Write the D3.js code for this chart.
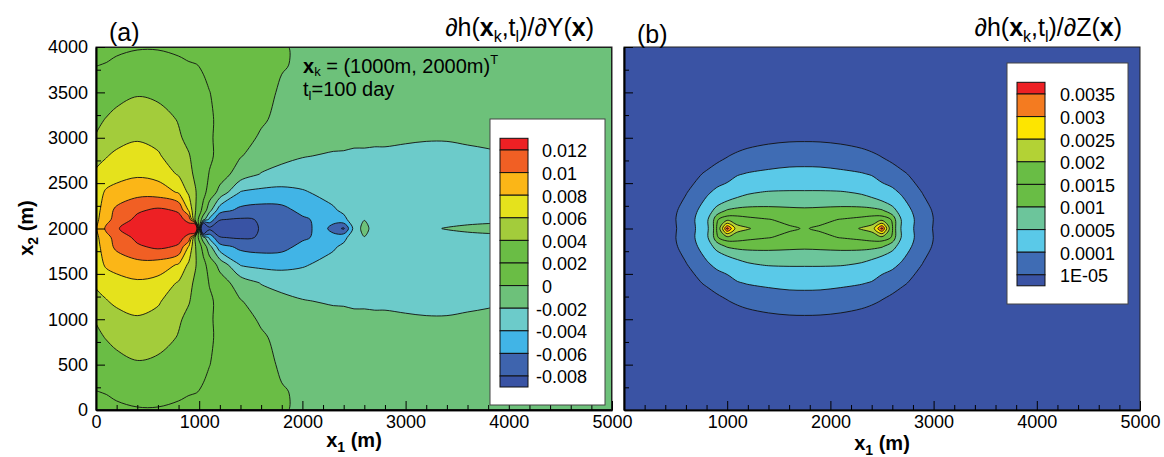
<!DOCTYPE html>
<html>
<head>
<meta charset="utf-8">
<script src="https://cdn.jsdelivr.net/npm/d3@7"></script>
<style>
  body { margin: 0; background: #fff; }
  svg text { font-family: "Liberation Sans", Arial, Helvetica, sans-serif; fill: #000; }
</style>
</head>
<body>
<div id="chart"></div>
<script>
// ---- panel (a): dh/dY, values on a grid of nodes ----
// node positions along x1 (m)
var gridA_x1 = [0, 100, 200, 400, 600, 800, 900, 960, 1040, 1100, 1200, 1400, 1600, 1800, 2000,
                2200, 2300, 2400, 2500, 2600, 2700, 2800, 3000, 3200, 3400, 3600, 3800, 4200, 4600, 5000];
// node rows along x2 (m), upper half only: the field is mirrored about x2 = 2000
var gridA_x2 = [2000, 2100, 2200, 2400, 2600, 2800, 3000, 3200, 3500, 3800, 4000];
var valuesA = [
  [0.0078, 0.0104, 0.0118, 0.0133, 0.0138, 0.0132, 0.0128, 0.020, -0.018, -0.0086, -0.0090, -0.0094, -0.0078, -0.0074, -0.0067,
   -0.0052, -0.0070, -0.0083, -0.0034, -0.0012, -0.0030, -0.0028, -0.0026, -0.0023, -0.0019, -0.0016, -0.0014, -0.0012, -0.0010, -0.0008],
  [0.0075, 0.0094, 0.0107, 0.0125, 0.0131, 0.0125, 0.0115, 0.0040, -0.0012, -0.0045, -0.0079, -0.0082, -0.0079, -0.0073, -0.0063,
   -0.0055, -0.0050, -0.0044, -0.0032, -0.0021, -0.0027, -0.0029, -0.0029, -0.0028, -0.0027, -0.0026, -0.0025, -0.0023, -0.0021, -0.0016],
  [0.0072, 0.0092, 0.0104, 0.0117, 0.0124, 0.0118, 0.0078, 0.0042, 0.0013, -0.0013, -0.0052, -0.0065, -0.0068, -0.0066, -0.0055,
   -0.0046, -0.0042, -0.0037, -0.0034, -0.0033, -0.0032, -0.0032, -0.0032, -0.0031, -0.0030, -0.0029, -0.0028, -0.0026, -0.0022, -0.0017],
  [0.0070, 0.0083, 0.0088, 0.0093, 0.0091, 0.0078, 0.0056, 0.0042, 0.0026, 0.0012, -0.0006, -0.0041, -0.0045, -0.0046, -0.0042,
   -0.0036, -0.0034, -0.0033, -0.0032, -0.0032, -0.0032, -0.0032, -0.0032, -0.0032, -0.0031, -0.0030, -0.0029, -0.0026, -0.0022, -0.0017],
  [0.0062, 0.0068, 0.0072, 0.0077, 0.0073, 0.0058, 0.0045, 0.0037, 0.0027, 0.0019, 0.0009, -0.0009, -0.0021, -0.0026, -0.0029,
   -0.0030, -0.0031, -0.0031, -0.0031, -0.0031, -0.0031, -0.0031, -0.0031, -0.0031, -0.0030, -0.0029, -0.0027, -0.0024, -0.0020, -0.0016],
  [0.0055, 0.0059, 0.0064, 0.0068, 0.0062, 0.0050, 0.0041, 0.0035, 0.0028, 0.0023, 0.0015, 0.0001, -0.0008, -0.0015, -0.0019,
   -0.0021, -0.0022, -0.0022, -0.0023, -0.0023, -0.0023, -0.0023, -0.0024, -0.0024, -0.0024, -0.0023, -0.0022, -0.0019, -0.0015, -0.0012],
  [0.0041, 0.0047, 0.0053, 0.0058, 0.0055, 0.0042, 0.0036, 0.0032, 0.0026, 0.0022, 0.0016, 0.0006, -0.0002, -0.0007, -0.0011,
   -0.0013, -0.0014, -0.0015, -0.0016, -0.0016, -0.0017, -0.0017, -0.0018, -0.0019, -0.0019, -0.0018, -0.0017, -0.0014, -0.0011, -0.0009],
  [0.0036, 0.0041, 0.0046, 0.0051, 0.0047, 0.0039, 0.0034, 0.0030, 0.0025, 0.0022, 0.0017, 0.0009, 0.0002, -0.0004, -0.0008,
   -0.0010, -0.0011, -0.0012, -0.0012, -0.0013, -0.0013, -0.0014, -0.0015, -0.0016, -0.0016, -0.0015, -0.0014, -0.0012, -0.0010, -0.0008],
  [0.0027, 0.0030, 0.0033, 0.0038, 0.0036, 0.0031, 0.0027, 0.0025, 0.0022, 0.00202, 0.0017, 0.0011, 0.0005, -0.0002, -0.0005,
   -0.0007, -0.0008, -0.0008, -0.0009, -0.0009, -0.0010, -0.0010, -0.0011, -0.0012, -0.0012, -0.0012, -0.0011, -0.0010, -0.0008, -0.0007],
  [0.00195, 0.0021, 0.0023, 0.0025, 0.0025, 0.0023, 0.0021, 0.00205, 0.0019, 0.0017, 0.0014, 0.0009, 0.0005, 0.0001, -0.0002,
   -0.0004, -0.0005, -0.0006, -0.0006, -0.0007, -0.0007, -0.0008, -0.0008, -0.0009, -0.0009, -0.0009, -0.0009, -0.0008, -0.0007, -0.0006],
  [0.0012, 0.0014, 0.0017, 0.0019, 0.0019, 0.0017, 0.0016, 0.0015, 0.0013, 0.0012, 0.0010, 0.0007, 0.0004, 0.0001, -0.0002,
   -0.0004, -0.0005, -0.0005, -0.0006, -0.0006, -0.0006, -0.0007, -0.0007, -0.0007, -0.0007, -0.0007, -0.0007, -0.0006, -0.0006, -0.0005]
];
var levelsA = [-0.008, -0.006, -0.004, -0.002, 0, 0.002, 0.004, 0.006, 0.008, 0.01, 0.012];
// first colour is below the lowest level, then one per level
var colorsA = ["#3953a4", "#3e64ae", "#41b4e6", "#6ccbca", "#6dc17a", "#6abd45", "#6abd45",
               "#a3cc3b", "#e5e21c", "#fbb617", "#f15f24", "#ed2024"];
var legendLabelsA = ["0.012", "0.01", "0.008", "0.006", "0.004", "0.002", "0", "-0.002", "-0.004", "-0.006", "-0.008"];

// ---- panel (b): dh/dZ, stored as log10 of the value ----
var gridB_x1 = [0, 400, 600, 800, 900, 1000, 1100, 1200, 1400, 1600, 1750, 1900, 2100, 2300, 2400, 2500,
                2600, 2700, 2900, 3100, 3500, 5000];
var gridB_x2 = [2000, 2100, 2200, 2400, 2600, 2800, 3000, 3200, 4000];
var log10ValuesB = [
  [-7.0, -5.59, -4.52, -3.40, -2.81, -2.43, -2.66, -2.688, -2.77, -2.81, -2.83, -2.81, -2.77, -2.688, -2.66, -2.43, -2.81, -3.40, -4.52, -5.59, -7.0, -9.5],
  [-7.0, -5.55, -4.48, -3.38, -2.84, -2.73, -2.76, -2.79, -2.82, -2.85, -2.87, -2.85, -2.82, -2.79, -2.76, -2.73, -2.84, -3.38, -4.48, -5.55, -7.0, -9.5],
  [-7.2, -5.6, -4.6, -3.55, -3.15, -2.98, -2.93, -2.92, -2.93, -2.95, -2.96, -2.95, -2.93, -2.92, -2.93, -2.98, -3.15, -3.55, -4.6, -5.6, -7.2, -9.6],
  [-8.0, -6.0, -5.07, -4.15, -3.8, -3.6, -3.45, -3.35, -3.27, -3.25, -3.25, -3.25, -3.27, -3.35, -3.45, -3.6, -3.8, -4.15, -5.07, -6.0, -8.0, -10],
  [-8.5, -6.5, -5.5, -4.85, -4.55, -4.35, -4.05, -3.95, -3.88, -3.85, -3.85, -3.85, -3.88, -3.95, -4.05, -4.35, -4.55, -4.85, -5.5, -6.5, -8.5, -10.5],
  [-9.0, -7.2, -6.3, -5.6, -5.3, -5.05, -4.8, -4.6, -4.35, -4.24, -4.22, -4.24, -4.35, -4.6, -4.8, -5.05, -5.3, -5.6, -6.3, -7.2, -9.0, -11],
  [-9.5, -8.0, -7.2, -6.6, -6.2, -5.95, -5.7, -5.55, -5.35, -5.23, -5.21, -5.23, -5.35, -5.55, -5.7, -5.95, -6.2, -6.6, -7.2, -8.0, -9.5, -11.5],
  [-10, -9.0, -8.2, -7.6, -7.2, -6.9, -6.6, -6.45, -6.3, -6.2, -6.2, -6.2, -6.3, -6.45, -6.6, -6.9, -7.2, -7.6, -8.2, -9.0, -10, -12],
  [-12, -12, -12, -12, -12, -12, -12, -12, -12, -12, -12, -12, -12, -12, -12, -12, -12, -12, -12, -12, -12, -12]
];
var levelsB = [1e-5, 1e-4, 5e-4, 1e-3, 1.5e-3, 2e-3, 2.5e-3, 3e-3, 3.5e-3];
var colorsB = ["#3a53a4", "#3f6cb4", "#5ac9e8", "#6cc59b", "#69bd45", "#69bd45",
               "#b3d235", "#fde500", "#f47b20", "#ed2024"];
var legendLabelsB = ["0.0035", "0.003", "0.0025", "0.002", "0.0015", "0.001", "0.0005", "0.0001", "1E-05"];

var xTicks = [0, 1000, 2000, 3000, 4000, 5000];
var yTicks = [0, 500, 1000, 1500, 2000, 2500, 3000, 3500, 4000];

// ---- layout ----
var W = 1164, H = 457;
var svg = d3.select("#chart").append("svg").attr("width", W).attr("height", H);
var defs = svg.append("defs");

var yScale = d3.scaleLinear().domain([0, 4000]).range([410, 47]);
var xScaleA = d3.scaleLinear().domain([0, 5000]).range([96, 612]);
var xScaleB = d3.scaleLinear().domain([0, 5000]).range([624, 1140]);

// full grid from the upper half rows, top row first
function mirrorGrid(rowsX2, rows) {
  var ys = [], vals = [];
  for (var i = rowsX2.length - 1; i >= 0; i--) { ys.push(rowsX2[i]); vals.push(rows[i]); }
  for (var j = 1; j < rowsX2.length; j++) { ys.push(4000 - rowsX2[j]); vals.push(rows[j]); }
  return { ys: ys, values: [].concat.apply([], vals) };
}

function drawField(g, id, xs, ys, values, thresholds, colors, xScale) {
  var n = xs.length, m = ys.length;
  // grid index -> data coordinate (non uniform node spacing)
  var ix = d3.scaleLinear().domain(d3.range(n)).range(xs).clamp(true);
  var iy = d3.scaleLinear().domain(d3.range(m)).range(ys).clamp(true);
  var toPx = p => [xScale(ix(p[0] - 0.5)), yScale(iy(p[1] - 0.5))];
  var smooth = d3.line().curve(d3.curveCatmullRomClosed.alpha(0.5));
  var bandPath = function (d) {
    var s = "";
    d.coordinates.forEach(function (poly) {
      poly.forEach(function (ring) {
        var pts = ring.slice(0, -1).map(toPx);
        if (pts.length > 2) s += smooth(pts);
      });
    });
    return s || null;
  };
  var bands = d3.contours().size([n, m]).thresholds(thresholds)(values);

  var x0 = xScale(0), y0 = yScale(4000), w = xScale(5000) - xScale(0), h = yScale(0) - yScale(4000);
  defs.append("clipPath").attr("id", id).append("rect")
    .attr("x", x0).attr("y", y0).attr("width", w).attr("height", h);
  var field = g.append("g").attr("clip-path", "url(#" + id + ")");

  field.append("rect")
    .attr("x", x0).attr("y", y0).attr("width", w).attr("height", h)
    .attr("fill", colors[0]);
  field.append("g").selectAll("path")
    .data(bands).enter().append("path")
    .attr("d", bandPath)
    .attr("fill", (d, i) => colors[i + 1]);
  field.append("g").selectAll("path")
    .data(bands).enter().append("path")
    .attr("d", bandPath)
    .attr("fill", "none")
    .attr("stroke", "#111")
    .attr("stroke-width", 0.9)
    .attr("stroke-linejoin", "round");
}

function drawAxes(g, xScale, xTickValues, showYLabels) {
  var minorX = d3.range(0, 5001, 200).filter(v => v % 1000 !== 0);
  var minorY = d3.range(0, 4001, 250).filter(v => v % 500 !== 0);

  g.append("rect")
    .attr("x", xScale(0)).attr("y", yScale(4000))
    .attr("width", xScale(5000) - xScale(0)).attr("height", yScale(0) - yScale(4000))
    .attr("fill", "none").attr("stroke", "#222").attr("stroke-width", 1);

  var bottom = g.append("g").attr("transform", "translate(0," + yScale(0) + ")");
  bottom.append("g").call(d3.axisBottom(xScale).tickValues(minorX).tickSize(-5).tickSizeOuter(0).tickFormat(""));
  bottom.append("g").call(d3.axisBottom(xScale).tickValues(xTicks).tickSize(-9).tickSizeOuter(0).tickPadding(5)
      .tickFormat(d => xTickValues.indexOf(d) >= 0 ? d : ""));

  var left = g.append("g").attr("transform", "translate(" + xScale(0) + ",0)");
  left.append("g").call(d3.axisLeft(yScale).tickValues(minorY).tickSize(-5).tickSizeOuter(0).tickFormat(""));
  left.append("g").call(d3.axisLeft(yScale).tickValues(yTicks).tickSize(-9).tickSizeOuter(0).tickPadding(8)
      .tickFormat(d => showYLabels ? d : ""));

  g.selectAll(".domain").attr("stroke", "#000").attr("stroke-width", 1.6);
  g.selectAll(".tick line").attr("stroke", "#000").attr("stroke-width", 1);
  g.selectAll(".tick text")
    .attr("font-size", 18)
    .attr("font-family", '"Liberation Sans", Arial, sans-serif');
}

function drawLegend(g, box, swatchX, labelX, labels, colors, yTop) {
  var step = 22.6;
  g.append("rect")
    .attr("x", box[0]).attr("y", box[1]).attr("width", box[2]).attr("height", box[3])
    .attr("fill", "#fff").attr("stroke", "#444").attr("stroke-width", 1);
  // boundary k sits at the label of labels[k]
  var by = d3.scaleLinear().domain([0, labels.length - 1]).range([yTop, yTop + step * (labels.length - 1)]);
  var nSw = labels.length + 1;
  for (var s = 0; s < nSw; s++) {
    var y0 = s === 0 ? by(0) - 11.7 : by(s - 1);
    var y1 = s === nSw - 1 ? by(labels.length - 1) + 11 : by(s);
    g.append("rect")
      .attr("x", swatchX).attr("y", y0).attr("width", 28).attr("height", y1 - y0)
      .attr("fill", colors[colors.length - 1 - s])
      .attr("stroke", "#111").attr("stroke-width", 1);
  }
  g.selectAll("text.leg").data(labels).enter().append("text")
    .attr("class", "leg")
    .attr("x", d => labelX - (d.charAt(0) === "-" ? 6 : 0))
    .attr("y", (d, i) => by(i) + 1)
    .attr("dy", "0.35em")
    .attr("font-size", 18)
    .text(d => d);
}

function title(x, letter) {
  var t = svg.append("text").attr("x", x).attr("y", 36).attr("text-anchor", "end").attr("font-size", 25);
  t.append("tspan").text("\u2202h(");
  t.append("tspan").attr("font-weight", "bold").text("x");
  t.append("tspan").attr("font-size", 16).attr("dy", 6).text("k");
  t.append("tspan").attr("dy", -6).text(",t");
  t.append("tspan").attr("font-size", 16).attr("dy", 6).text("l");
  t.append("tspan").attr("dy", -6).text(")/\u2202" + letter + "(");
  t.append("tspan").attr("font-weight", "bold").text("x");
  t.append("tspan").text(")");
}

function axisLabel(x, y, sub, rotate) {
  var t = svg.append("text")
    .attr("transform", "translate(" + x + "," + y + ")" + (rotate ? " rotate(-90)" : ""))
    .attr("text-anchor", "middle").attr("font-size", 20).attr("font-weight", "bold");
  t.append("tspan").text("x");
  t.append("tspan").attr("font-size", 14).attr("dy", 5).text(sub);
  t.append("tspan").attr("dy", -5).text(" (m)");
}

// ---- panel (a) ----
var gA = svg.append("g");
var fullA = mirrorGrid(gridA_x2, valuesA);
drawField(gA, "clipA", gridA_x1, fullA.ys, fullA.values, levelsA, colorsA, xScaleA);
drawAxes(gA, xScaleA, xTicks, true);
drawLegend(gA, [490, 119, 115, 286], 500, 542, legendLabelsA, colorsA, 150);

// ---- panel (b) ----
var gB = svg.append("g");
var fullB = mirrorGrid(gridB_x2, log10ValuesB);
drawField(gB, "clipB", gridB_x1, fullB.ys, fullB.values, levelsB.map(v => Math.log10(v)), colorsB, xScaleB);
drawAxes(gB, xScaleB, xTicks.slice(1), false);
drawLegend(gB, [1007, 63, 121, 241], 1017, 1060, legendLabelsB, colorsB, 94);

// ---- texts ----
svg.append("text").attr("x", 109).attr("y", 41).attr("font-size", 25).text("(a)");
svg.append("text").attr("x", 637).attr("y", 43).attr("font-size", 25).text("(b)");
title(594, "Y");
title(1122, "Z");

var note1 = svg.append("text").attr("x", 303).attr("y", 73).attr("font-size", 20);
note1.append("tspan").attr("font-weight", "bold").text("x");
note1.append("tspan").attr("font-size", 13).attr("dy", 3).text("k");
note1.append("tspan").attr("dy", -3).text(" = (1000m, 2000m)");
note1.append("tspan").attr("font-size", 13).attr("dy", -9).text("T");
var note2 = svg.append("text").attr("x", 303).attr("y", 96).attr("font-size", 20);
note2.append("tspan").text("t");
note2.append("tspan").attr("font-size", 13).attr("dy", 4).text("l");
note2.append("tspan").attr("dy", -4).text("=100 day");

axisLabel(354, 447, "1", false);
axisLabel(882, 450, "1", false);
axisLabel(33, 228, "2", true);
</script>
</body>
</html>
